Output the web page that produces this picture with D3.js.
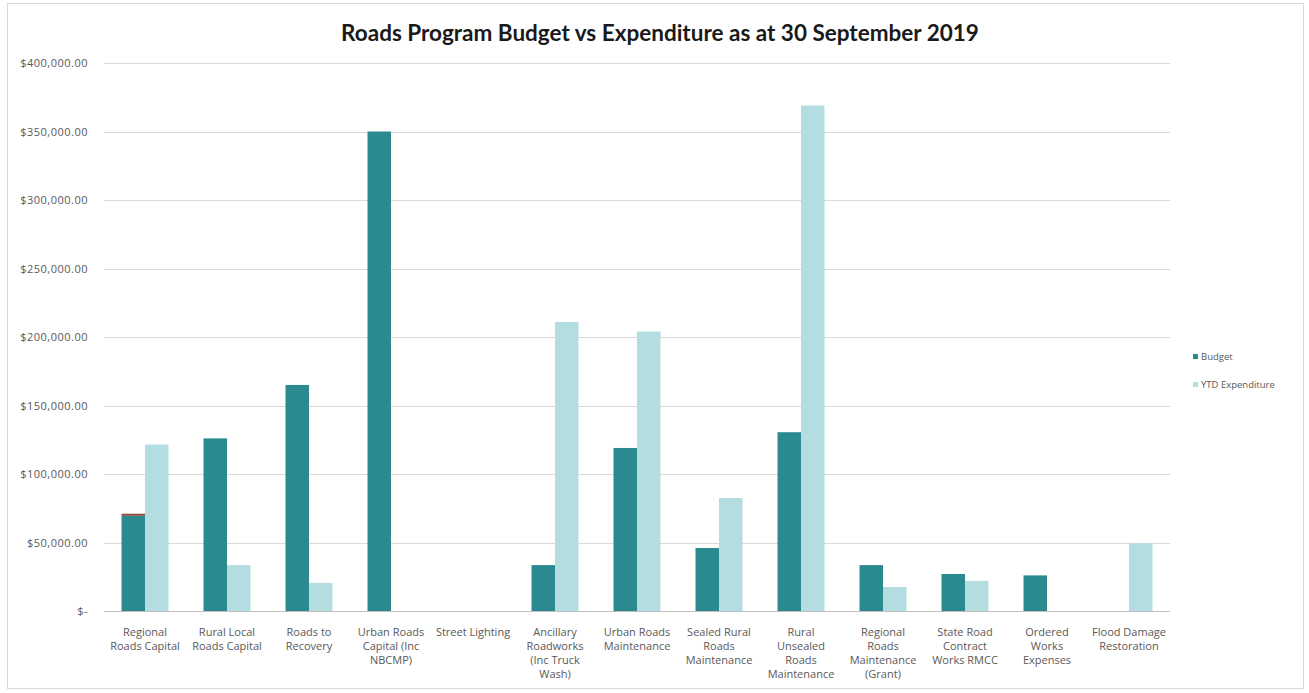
<!DOCTYPE html>
<html>
<head>
<meta charset="utf-8">
<script src="https://cdn.jsdelivr.net/npm/d3@7"></script>
<style>
  html, body { margin: 0; padding: 0; background: #ffffff; }
  svg { display: block; }
</style>
</head>
<body>
<svg id="chart" width="1309" height="693"></svg>
<script>
// Program lines (label line breaks as shown under the axis)
const categories = [
  "Regional\nRoads Capital",
  "Rural Local\nRoads Capital",
  "Roads to\nRecovery",
  "Urban Roads\nCapital (Inc\nNBCMP)",
  "Street Lighting",
  "Ancillary\nRoadworks\n(Inc Truck\nWash)",
  "Urban Roads\nMaintenance",
  "Sealed Rural\nRoads\nMaintenance",
  "Rural\nUnsealed\nRoads\nMaintenance",
  "Regional\nRoads\nMaintenance\n(Grant)",
  "State Road\nContract\nWorks RMCC",
  "Ordered\nWorks\nExpenses",
  "Flood Damage\nRestoration"
];

// Budget and year-to-date expenditure, dollars
const budget = [69500, 126000, 165000, 350000, 0, 33500, 119000, 46000, 130500, 33500, 27000, 26000, 0];
const ytdExpenditure = [121500, 33500, 20500, 0, 0, 211000, 204000, 82500, 369000, 17500, 22000, 0, 49500];
// Small adjustment shown on top of the budget column
const budgetAdjustment = [1500, 0, 0, 0, 0, 0, 0, 0, 0, 0, 0, 0, 0];

const seriesNames = ["Budget", "YTD Expenditure"];
const yTicks = [0, 50000, 100000, 150000, 200000, 250000, 300000, 350000, 400000];

const colors = { "Budget": "#2b8a90", "YTD Expenditure": "#b4dde1", adjust: "#8e4a3c" };

const svg = d3.select("#chart");
const plot = { left: 104, right: 1170, top: 63, bottom: 611 };

// outer chart frame
svg.append("rect")
  .attr("x", 7.5).attr("y", 3.5)
  .attr("width", 1296).attr("height", 685)
  .attr("fill", "#ffffff").attr("stroke", "#d9d9d9");

// title
svg.append("text")
  .attr("x", 660).attr("y", 41)
  .attr("text-anchor", "middle")
  .attr("font-family", "Lato, 'Open Sans', sans-serif")
  .attr("font-weight", "bold")
  .attr("font-size", 22.5)
  .attr("fill", "#1a1a1a")
  .text("Roads Program Budget vs Expenditure as at 30 September 2019");

const x0 = d3.scaleBand()
  .domain(categories)
  .range([plot.left, plot.right])
  .paddingInner(0.427)
  .paddingOuter(0.2135);

const x1 = d3.scaleBand()
  .domain(seriesNames)
  .range([0, x0.bandwidth()])
  .padding(0);

const y = d3.scaleLinear()
  .domain([0, 400000])
  .range([plot.bottom, plot.top]);

// gridlines
svg.append("g")
  .selectAll("line")
  .data(yTicks.filter(v => v > 0))
  .join("line")
  .attr("x1", plot.left).attr("x2", plot.right)
  .attr("y1", d => Math.round(y(d)) + 0.5)
  .attr("y2", d => Math.round(y(d)) + 0.5)
  .attr("stroke", "#d9d9d9")
  .attr("stroke-width", 1);

// y axis labels
const fmt = v => v === 0 ? "$-" : "$" + d3.format(",.2f")(v);
const yAxis = d3.axisLeft(y).tickValues(yTicks).tickFormat(fmt).tickSize(0).tickPadding(16);
const yG = svg.append("g")
  .attr("transform", `translate(${plot.left},0)`)
  .call(yAxis);
yG.select(".domain").remove();
yG.selectAll("text")
  .attr("font-family", "'Open Sans', sans-serif")
  .attr("font-size", 11)
  .attr("letter-spacing", 0.5)
  .attr("fill", "#595959");

// bars
const rows = categories.map((c, i) => ({
  cat: c,
  values: [
    { key: "Budget", value: budget[i], adjust: budgetAdjustment[i] },
    { key: "YTD Expenditure", value: ytdExpenditure[i], adjust: 0 }
  ]
}));

const groups = svg.append("g")
  .selectAll("g")
  .data(rows)
  .join("g")
  .attr("transform", d => `translate(${x0(d.cat)},0)`);

groups.selectAll("rect.bar")
  .data(d => d.values)
  .join("rect")
  .attr("class", "bar")
  .attr("x", d => x1(d.key))
  .attr("width", x1.bandwidth())
  .attr("y", d => y(d.value))
  .attr("height", d => y(0) - y(d.value))
  .attr("fill", d => colors[d.key]);

groups.selectAll("rect.adj")
  .data(d => d.values.filter(v => v.adjust > 0))
  .join("rect")
  .attr("class", "adj")
  .attr("x", d => x1(d.key))
  .attr("width", x1.bandwidth())
  .attr("y", d => y(d.value + d.adjust))
  .attr("height", d => y(d.value) - y(d.value + d.adjust))
  .attr("fill", colors.adjust);

// x axis line
svg.append("line")
  .attr("x1", plot.left).attr("x2", plot.right)
  .attr("y1", plot.bottom + 0.5).attr("y2", plot.bottom + 0.5)
  .attr("stroke", "#bfbfbf");

// category labels
const xl = svg.append("g")
  .selectAll("text")
  .data(categories)
  .join("text")
  .attr("x", d => x0(d) + x0.bandwidth() / 2)
  .attr("y", 636)
  .attr("text-anchor", "middle")
  .attr("font-family", "'Liberation Sans Narrow', 'Open Sans', sans-serif")
  .attr("font-size", 11)
  .attr("fill", "#595959");
xl.selectAll("tspan")
  .data(d => d.split("\n"))
  .join("tspan")
  .attr("x", function () { return this.parentNode.getAttribute("x"); })
  .attr("dy", (d, i) => i === 0 ? 0 : 14)
  .text(d => d);

// legend
const legend = svg.append("g").attr("transform", "translate(1193,357)");
const li = legend.selectAll("g")
  .data(seriesNames)
  .join("g")
  .attr("transform", (d, i) => `translate(0,${i * 28})`);
li.append("rect")
  .attr("x", 0).attr("y", -3)
  .attr("width", 5).attr("height", 5)
  .attr("fill", d => colors[d]);
li.append("text")
  .attr("x", 8).attr("y", 3)
  .attr("font-family", "'Liberation Sans Narrow', 'Open Sans', sans-serif")
  .attr("font-size", 9.5)
  .attr("fill", "#595959")
  .text(d => d);
</script>
</body>
</html>
